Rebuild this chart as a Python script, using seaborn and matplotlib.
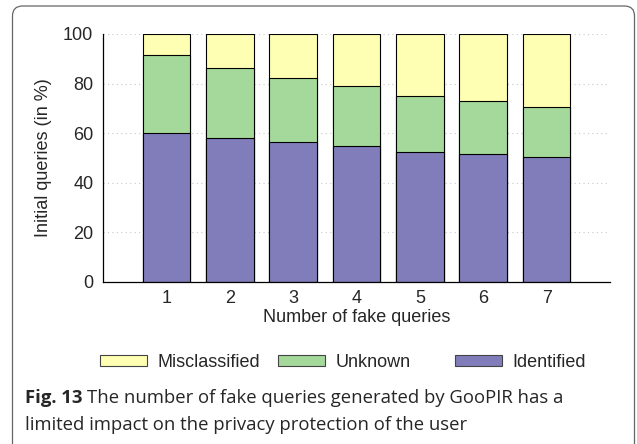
import numpy as np
import pandas as pd
import matplotlib.pyplot as plt
import seaborn as sns
from matplotlib.patches import FancyBboxPatch, Patch
from matplotlib.transforms import IdentityTransform

# values (percent of initial queries)
fake_queries = ["1", "2", "3", "4", "5", "6", "7"]
identified = [59.9, 58.0, 56.3, 54.9, 52.6, 51.6, 50.6]
unknown = [31.6, 28.4, 25.9, 24.0, 22.4, 21.3, 19.8]
misclassified = [8.5, 13.6, 17.8, 21.1, 25.0, 27.1, 29.6]

labels = ["Misclassified", "Unknown", "Identified"]
colors = ["#ffffb3", "#a4d99b", "#807dba"]

df = pd.DataFrame({"fake": fake_queries,
                   "Identified": identified,
                   "Unknown": unknown,
                   "Misclassified": misclassified})
df["unknown_top"] = df["Identified"] + df["Unknown"]
df["mis_top"] = df["unknown_top"] + df["Misclassified"]

sns.set_style("white")
plt.rcParams["font.family"] = ["Liberation Sans", "DejaVu Sans"]

fig = plt.figure(figsize=(6.37, 4.44), dpi=100)
ax = fig.add_axes([103 / 637, 1 - 282 / 444, 507 / 637, 248 / 444])

# stacked bars: draw the cumulative tops first, then the lower parts over them
for col, c in zip(["mis_top", "unknown_top", "Identified"], colors):
    sns.barplot(data=df, x="fake", y=col, color=c, saturation=1, width=0.75,
                edgecolor="black", linewidth=0.8, errorbar=None, ax=ax, zorder=2)

ax.set_xlim(-1, 7)
ax.set_ylim(0, 100)
ax.set_yticks([0, 20, 40, 60, 80, 100])
ax.yaxis.grid(True, linestyle=(0, (1, 3)), color="#c8c8c8", linewidth=0.8, zorder=0)
ax.set_axisbelow(True)
for s in ["top", "right"]:
    ax.spines[s].set_visible(False)
for s in ["left", "bottom"]:
    ax.spines[s].set_color("black")
    ax.spines[s].set_linewidth(0.9)
ax.tick_params(axis="y", direction="in", length=4, width=0.8, labelsize=13, pad=7)
ax.tick_params(axis="x", length=0, labelsize=13, pad=6)
ax.set_xlabel("Number of fake queries", fontsize=13, labelpad=1)
ax.set_ylabel("Initial queries (in %)", fontsize=13, labelpad=8)

# legend entries evenly spaced under the plot
for lab, c, x0 in zip(labels, colors, [100, 278, 455]):
    fig.legend(handles=[Patch(facecolor=c, edgecolor="#444444", linewidth=0.8)],
               labels=[lab], loc="center left",
               bbox_to_anchor=(x0 / 637, 1 - 362 / 444), frameon=False,
               fontsize=13, handlelength=2.6, handleheight=0.55,
               handletextpad=0.6, borderpad=0, borderaxespad=0)

# caption
cap_font = ["Open Sans", "DejaVu Sans"]
fig.canvas.draw()
bold = fig.text(25 / 637, 1 - 403 / 444, "Fig. 13", fontsize=13.3,
                fontweight="bold", family=cap_font, va="baseline")
r = fig.canvas.get_renderer()
bb = bold.get_window_extent(renderer=r)
fig.text(bb.x1 / 637 + 5 / 637, 1 - 403 / 444,
         "The number of fake queries generated by GooPIR has a",
         fontsize=13.3, family=cap_font, va="baseline")
fig.text(25 / 637, 1 - 430 / 444,
         "limited impact on the privacy protection of the user",
         fontsize=13.3, family=cap_font, va="baseline")

# rounded frame around the figure, open at the bottom
frame = FancyBboxPatch((12.5, -30), 622, 444 - 6 + 30,
                       boxstyle="round,pad=0,rounding_size=10",
                       transform=IdentityTransform(), fill=False,
                       edgecolor="#666666", linewidth=0.9)
fig.patches.append(frame)

fig.savefig("out.png", dpi=100)
